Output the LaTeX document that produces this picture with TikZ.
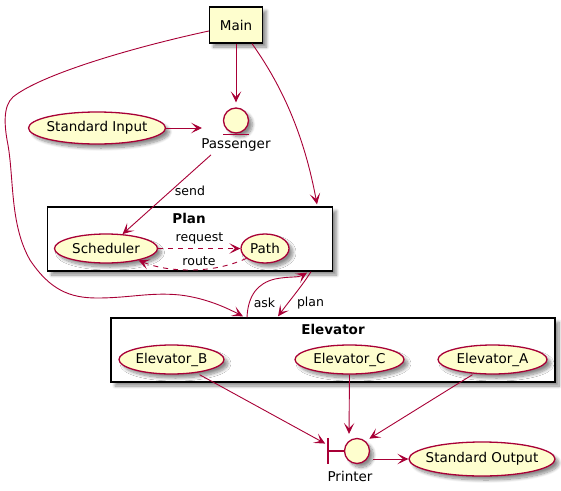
\documentclass[tikz,border=0pt]{standalone}
\usepackage{fontspec}
\setmainfont{DejaVu Sans}
\usetikzlibrary{arrows.meta,shapes.geometric,shadows.blur}
\definecolor{umlline}{HTML}{A80036}
\definecolor{umlfill}{HTML}{FEFECE}
\newcommand{\casetext}[1]{\makebox[0pt]{#1}}
\tikzset{
  softshadow/.style={blur shadow={shadow xshift=4pt,shadow yshift=-4pt,shadow blur steps=10,shadow blur radius=3pt,shadow opacity=45}},
  usecase/.style={ellipse,draw=umlline,fill=umlfill,line width=1.3pt,inner sep=0pt,minimum height=29pt,font=\fontsize{13.5}{15}\selectfont,softshadow},
  entity/.style={circle,draw=umlline,fill=umlfill,line width=1.3pt,inner sep=0pt,minimum size=25pt,softshadow},
  pkg/.style={rectangle,draw=black,fill=white,line width=1.3pt,inner sep=0pt,softshadow},
  title/.style={font=\fontsize{13.5}{15}\selectfont\bfseries},
  caption/.style={font=\fontsize{13.5}{15}\selectfont},
  edgelabel/.style={font=\fontsize{12.5}{14}\selectfont},
  flow/.style={draw=umlline,line width=0.9pt,-{Stealth[length=11pt,width=10.5pt,inset=5.5pt]}},
  flowdash/.style={flow,dash pattern=on 5pt off 5pt}
}
\begin{document}
\begin{tikzpicture}[x=1pt,y=-1pt]
\useasboundingbox (0,0) rectangle (561,490);

% Main box
\node[rectangle,draw=black,fill=umlfill,line width=1.3pt,minimum width=53pt,minimum height=36pt,inner sep=0pt,caption,softshadow] (main) at (236,25) {Main};

% Passenger
\node[entity] (passenger) at (236,120.5) {};
\draw[draw=umlline,line width=1.3pt] ([xshift=-13pt,yshift=-1pt]passenger.south) -- ([xshift=13pt,yshift=-1pt]passenger.south);
\node[caption] (passengerlabel) at (236,145) {Passenger};
\node[usecase,minimum width=137pt,minimum height=32pt] (stdin) at (97,128) {\casetext{Standard Input}};

% Plan
\node[pkg,minimum width=285pt,minimum height=64pt] (planbox) at (190,239) {};
\node[title] (plantitle) at (189,218) {Plan};
\node[usecase,minimum width=103pt] (scheduler) at (106,248.5) {\casetext{Scheduler}};
\node[usecase,minimum width=48pt] (path) at (265,248.5) {\casetext{Path}};

% Elevator
\node[pkg,minimum width=444pt,minimum height=64pt] (elevatorbox) at (333,350) {};
\node[title] (elevatortitle) at (333,329) {Elevator};
\node[usecase,minimum width=105pt] (elevb) at (171.5,359.5) {\casetext{Elevator\_B}};
\node[usecase,minimum width=109pt] (elevc) at (349.5,359.5) {\casetext{Elevator\_C}};
\node[usecase,minimum width=109pt] (eleva) at (492.5,359.5) {\casetext{Elevator\_A}};

% Printer
\node[entity] (printer) at (357,451) {};
\node[inner sep=0pt,minimum width=0pt,minimum height=26pt] (printerbar) at (328,451) {};
\draw[draw=umlline,line width=1.3pt] (printerbar.north) -- (printerbar.south);
\draw[draw=umlline,line width=1.3pt] (printerbar.center) -- (printer.west);
\node[caption] (printerlabel) at (350,476) {Printer};
\node[usecase,minimum width=146pt,minimum height=34pt] (stdout) at (482,459) {\casetext{Standard Output}};

% Connectors from main
\draw[flow,shorten >=5pt] (main.south) -- (passenger.north);
\draw[flow,shorten >=34pt] (stdin.east) -- (passenger.center |- stdin.east);
\draw[flow] ([xshift=16pt]main.south) .. controls (285,90) and (305,140) .. ([xshift=127pt,yshift=2pt]planbox.north);
\draw[flow] ([yshift=-6pt]main.west) .. controls (130,48) and (40,75) .. (13,97) .. controls (3,106) and (4,125) .. (8,145) .. controls (14,180) and (10,225) .. (30,260) .. controls (50,290) and (70,298) .. (97,298) .. controls (130,298) and (150,292) .. (180,295) .. controls (205,298) and (225,307) .. ([xshift=-90pt,yshift=1pt]elevatorbox.north);

% Plan connectors
\draw[flow] ([xshift=-25pt]passengerlabel.south) -- (scheduler.41);
\node[edgelabel] (sendlabel) at (190,191) {send};
\draw[flowdash] (scheduler.east) -- (path.west);
\node[edgelabel] (requestlabel) at (199.5,238) {request};
\draw[flowdash] (path.-152) .. controls (225,268) and (205,270) .. (190,270) .. controls (170,270) and (155,267) .. (scheduler.-20);
\node[edgelabel] (routelabel) at (199,261) {route};

% Plan and Elevator
\draw[flow] ([xshift=-86pt]elevatorbox.north) .. controls (248,295) and (258,283) .. (275,279) .. controls (290,276) and (298,278) .. ([xshift=117pt,yshift=-1pt]planbox.south);
\node[edgelabel] (asklabel) at (264.5,303) {ask};
\draw[flow] ([xshift=121pt]planbox.south) .. controls (302,286) and (290,300) .. ([xshift=-55pt,yshift=1pt]elevatorbox.north);
\node[edgelabel] (planlabel) at (310.5,303) {plan};

% Printer connectors
\draw[flow,shorten >=3pt] ([xshift=28pt]elevb.south) -- (printerbar.west |- 0,445);
\draw[flow] (elevc.south) -- ([yshift=4pt,xshift=-8pt]printer.north);
\draw[flow] ([xshift=-20pt]eleva.south) -- ([xshift=3pt,yshift=3pt]printer.45);
\draw[flow] ([xshift=16pt,yshift=-8pt]printer.center) -- (stdout.west);

\end{tikzpicture}
\end{document}
